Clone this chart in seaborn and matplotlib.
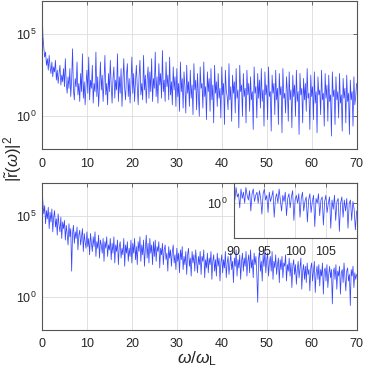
import matplotlib
matplotlib.use("Agg")
import matplotlib.pyplot as plt
import numpy as np
import seaborn as sns

# spectrum |r(w)|^2 as log10 values
top_step = 0.2
top_log = [
    7.0, 4.9, 4.2, 3.6, 3.9, 3.1, 3.5, 2.8, 3.7, 3.0, 2.6, 3.3, 2.4, 3.0, 2.7, 3.4, 2.2, 2.8, 2.0, 2.6, 3.1, 1.9, 2.5, 2.1, 2.9,
    1.8, 3.5, 2.0, 1.4, 2.4, 1.7, 2.9, 1.2, 2.2, 4.1, 1.6, 1.0, 2.3, 1.8, 3.3, 1.3, 2.0, 0.9, 2.6, 1.5, 3.8, 1.1, 2.1, 0.7, 1.9,
    2.8, 1.4, 3.6, 1.0, 2.2, 1.7, 3.1, 0.8, 2.0, 1.5, 3.9, 1.2, 2.4, 0.6, 1.8, 3.3, 1.6, 2.5, 0.9, 2.1, 3.7, 1.3, 2.0, 0.7, 2.6,
    1.5, 3.4, 1.9, 0.8, 2.3, 3.0, 1.1, 2.2, 1.6, 3.8, 0.9, 2.4, 1.4, 2.9, 0.6, 2.1, 3.5, 1.7, 1.0, 2.5, 3.2, 1.2, 2.3, 0.8, 2.0,
    3.6, 1.4, 2.6, 0.9, 2.1, 3.1, 1.8, 0.7, 2.4, 3.4, 1.3, 2.0, 1.0, 3.7, 1.6, 2.5, 0.8, 2.2, 3.0, 1.1, 2.7, 1.5, 3.5, 0.9, 2.3,
    1.7, 3.9, 1.2, 2.4, 0.8, 3.2, 1.9, 2.6, 1.1, 4.0, 1.5, 2.2, 0.9, 3.3, 1.8, 2.5, 1.0, 3.6, 1.3, 2.1, 0.7, 3.0, 1.6, 2.4, 0.6,
    2.9, 1.2, 2.0, 0.3, 3.3, 1.5, 2.3, 0.5, 2.7, 1.8, 0.2, 3.1, 1.4, 2.1, 0.6, 2.8, 1.1, 1.9, 0.1, 3.2, 1.6, 2.2, 0.4, 2.6, 1.3,
    0.0, 3.0, 1.7, 2.0, 0.5, 3.3, 1.2, 1.8, -0.2, 2.7, 1.5, 2.3, 0.3, 2.9, 1.0, 1.9, -0.4, 3.1, 1.4, 2.1, 0.6, 2.6, 1.1, 1.7, -0.1,
    3.0, 1.3, 2.0, -0.5, 2.8, 1.6, 1.2, 0.4, 3.2, 1.0, 1.8, -0.3, 2.5, 1.4, 2.1, 0.2, 2.9, 1.1, 1.6, -0.7, 3.1, 1.5, 1.9, 0.0, 2.6,
    1.2, 1.7, -0.4, 2.8, 1.3, 2.0, 0.3, 2.4, 1.0, 1.5, -0.8, 3.0, 1.4, 1.8, -0.1, 2.6, 1.1, 2.2, 0.5, 2.9, 0.9, 1.6, -0.6, 2.7, 1.3,
    1.9, -0.2, 3.0, 1.2, 1.5, -0.9, 2.5, 1.4, 2.0, 0.1, 2.8, 1.0, 1.7, -0.5, 2.6, 1.3, 1.8, -1.0, 2.9, 1.1, 1.4, 0.2, 2.4, 1.5, -0.3,
    2.7, 1.0, 1.6, -0.7, 2.5, 1.2, 1.9, 0.0, 2.8, 0.9, 1.5, -1.1, 2.6, 1.3, 1.7, -0.4, 2.3, 1.0, 2.0, 0.3, 2.9, 1.1, 1.4, -0.8, 2.5,
    1.2, 1.8, -0.2, 2.7, 0.8, 1.5, -1.0, 2.4, 1.3, 1.6, 0.1, 2.8, 1.0, 1.4, -0.6, 2.6, 1.1, 1.9, -0.3, 2.5, 0.9, 1.3, -1.2, 2.7, 1.2,
    1.6, -0.5, 2.4, 1.0, 1.5, -0.1, 2.6, 0.8, 1.3, -0.9, 2.3, 1.1, 1.7, -0.4, 2.5, 0.9, 1.4, -1.1, 2.2, 1.0, 1.5, -0.6, 2.4, 0.7, 1.2,
    2.0,
]

bottom_step = 0.2
bottom_log = [
    7.0, 5.8, 5.1, 5.6, 4.5, 5.3, 4.8, 5.5, 4.2, 5.2, 4.6, 5.4, 4.0, 4.9, 5.3, 4.3, 4.8, 3.8, 5.1, 4.4, 4.0, 4.9, 3.6, 4.6, 4.2,
    4.7, 3.5, 4.4, 3.9, 3.2, 4.5, 3.7, 4.2, 1.6, 3.9, 4.4, 3.3, 4.0, 3.6, 4.3, 2.9, 3.8, 4.1, 3.2, 3.7, 4.2, 2.8, 3.9, 3.4, 3.0,
    4.0, 3.1, 3.6, 2.6, 3.9, 3.3, 2.8, 3.7, 3.1, 4.0, 2.5, 3.4, 3.0, 3.8, 2.4, 3.5, 3.2, 2.7, 3.6, 2.2, 3.4, 3.0, 3.7, 2.5, 3.2,
    2.9, 3.6, 2.3, 3.3, 2.7, 3.7, 2.1, 3.2, 2.8, 3.5, 2.0, 3.1, 3.4, 2.4, 3.0, 2.6, 3.6, 1.9, 3.2, 2.7, 3.4, 2.2, 3.0, 2.5, 3.5,
    2.1, 3.3, 2.7, 3.6, 2.3, 3.1, 2.0, 3.4, 2.8, 3.7, 2.2, 3.2, 2.6, 3.5, 1.9, 3.0, 3.8, 2.4, 3.3, 2.1, 3.6, 2.7, 3.2, 2.0, 3.4,
    2.5, 3.5, 2.2, 3.1, 2.8, 3.4, 1.8, 3.0, 2.6, 3.3, 2.0, 2.9, 3.2, 2.3, 2.7, 1.6, 3.1, 2.4, 2.9, 1.9, 2.8, 3.2, 2.1, 2.6, 1.7,
    3.0, 2.2, 2.7, 1.5, 2.9, 2.3, 3.1, 1.7, 2.5, 2.0, 2.8, 1.4, 2.6, 3.0, 1.9, 2.4, 1.3, 2.8, 2.1, 2.6, 1.6, 2.9, 2.2, 1.5, 2.5,
    2.0, 2.8, 1.4, 2.5, 2.2, 2.9, 1.2, 2.3, 1.8, 2.7, 1.5, 2.4, 2.0, 2.8, 1.1, 2.2, 2.6, 1.6, 2.3, 1.3, 2.7, 1.9, 2.4, 1.0, 2.1,
    2.6, 1.5, 2.3, 1.8, 2.8, 1.2, 2.1, 2.5, 1.4, 2.0, 2.7, 1.7, 2.2, 0.9, 2.4, 1.9, 2.9, 1.3, 2.3, 1.8, 2.6, 1.1, 2.2, 2.7, 1.6,
    2.4, 1.9, 2.8, 1.3, 2.2, 2.6, 1.5, 2.9, 1.8, 2.3, 1.2, 2.7, 2.0, 2.5, 1.4, -0.3, 2.4, 2.8, 1.6, 2.2, 1.0, 2.6, 1.9, 2.9, 1.5,
    2.3, 2.7, 1.3, 2.1, 2.5, 1.6, 2.8, 1.1, 2.2, 1.8, 2.6, 1.4, 2.0, 2.4, 0.9, 2.3, 1.7, 2.5, 1.2, 2.1, 1.9, 2.6, 1.0, 2.0, 1.6,
    2.4, 1.3, 2.1, 0.6, 1.9, 2.3, 1.4, 2.0, 0.8, 1.7, 2.2, 1.2, 1.8, 2.4, 0.5, 1.6, 2.0, 1.1, 1.9, 0.9, 2.1, 1.4, 1.7, 0.4, 1.8,
    2.1, 1.0, 1.6, 2.2, 0.3, 1.5, 1.9, 1.1, 2.0, 0.7, 1.7, 1.3, 2.1, 0.2, 1.6, 1.8, 1.0, 2.0, 0.6, 1.4, 1.9, 1.2, 1.7, -0.4, 1.5,
    1.8, 1.1, 2.0, 0.5, 1.6, 1.3, 1.9, 0.2, 1.5, 1.7, 0.9, 2.1, 1.2, 0.4, 1.6, 1.8, 1.0, 1.4, -0.5, 1.7, 1.3, 1.9, 0.6, 1.5, 1.1,
    1.4,
]

inset_start = 90
inset_step = 0.2
inset_log = [
    0.8, 0.2, 1.0, 0.4, 0.6, -0.3, 0.9, 0.3, 0.7, 0.0, 1.0, 0.5, 0.2, 0.8, -0.5, 0.6, 0.9, 0.1, 0.5, 0.7,
    0.0, 0.8, 0.3, -0.7, 0.6, 0.9, 0.2, 0.5, -0.6, 0.7, 0.1, 0.4, 0.8, -0.9, 0.3, 0.6, 0.0, 0.9, 0.2, -0.5,
    0.5, 0.1, 0.7, -0.8, 0.3, 0.6, -0.3, 0.4, 0.8, -1.1, 0.2, 0.5, 0.0, 0.6, -0.9, 0.3, 0.7, -0.5, 0.1, 0.4,
    -1.2, 0.2, 0.6, -0.6, 0.1, 0.5, -1.5, 0.3, 0.0, 0.6, -0.8, 0.2, 0.4, -1.4, 0.1, 0.5, -0.6, 0.0, 0.4, -1.6,
    0.2, -0.4, 0.5, -1.1, 0.1, 0.3, -1.8, 0.0, 0.4, -0.9, 0.2, -0.5, 0.3, -1.6, 0.0, 0.2, -1.1, 0.1, -0.4, -1.7,
    -0.5,
]

line_color = "#2233ff"
spine_color = "#555555"
grid_color = "#dcdcdc"

sns.set_theme(style="white")
plt.rcParams["font.family"] = ["Liberation Sans", "DejaVu Sans"]
plt.rcParams["mathtext.fontset"] = "custom"
plt.rcParams["mathtext.rm"] = "Liberation Sans"
plt.rcParams["mathtext.it"] = "Liberation Sans:italic"


def spectrum(log_vals, start, step):
    x = start + step * np.arange(len(log_vals))
    y = 10.0 ** np.array(log_vals)
    return x, y


def style_axes(ax, fs=9):
    for s in ax.spines.values():
        s.set_color(spine_color)
        s.set_linewidth(0.8)
    ax.tick_params(direction="in", length=3, width=0.6, color=spine_color,
                   top=True, right=True, labelsize=fs, pad=4)
    ax.tick_params(axis="x", pad=6)
    ax.grid(True, color=grid_color, linewidth=0.6)
    ax.set_xlabel("")
    ax.set_ylabel("")


fig = plt.figure(figsize=(3.65, 3.73), dpi=100)
ax_top = fig.add_axes([0.115, 0.600, 0.862, 0.397])
ax_bot = fig.add_axes([0.115, 0.115, 0.862, 0.395])
ax_in = fig.add_axes([0.640, 0.363, 0.337, 0.147])

for ax, vals, step in [(ax_top, top_log, top_step), (ax_bot, bottom_log, bottom_step)]:
    x, y = spectrum(vals, 0, step)
    sns.lineplot(x=x, y=y, ax=ax, color=line_color, linewidth=0.55, alpha=0.9, estimator=None)
    ax.set_yscale("log")
    ax.set_xlim(0, 70)
    ax.set_ylim(1e-2, 1e7)
    ax.set_xticks(range(0, 71, 10))
    ax.set_yticks([1e0, 1e5])
    ax.yaxis.set_minor_locator(matplotlib.ticker.NullLocator())
    style_axes(ax)

x, y = spectrum(inset_log, inset_start, inset_step)
sns.lineplot(x=x, y=y, ax=ax_in, color=line_color, linewidth=0.55, alpha=0.9, estimator=None)
ax_in.set_yscale("log")
ax_in.set_xlim(90, 110)
ax_in.set_ylim(10 ** -2.2, 10 ** 1.3)
ax_in.set_xticks([90, 95, 100, 105])
ax_in.set_yticks([1e0])
ax_in.yaxis.set_minor_locator(matplotlib.ticker.NullLocator())
style_axes(ax_in)
ax_in.set_facecolor("white")

fig.text(0.035, 0.575, r"$|\tilde{\mathrm{r}}(\omega)|^2$", rotation=90,
         ha="center", va="center", fontsize=12)
fig.text(0.541, 0.026, r"$\omega/\omega_\mathrm{L}$", ha="center", va="baseline", fontsize=12.5)

fig.savefig("out.png", dpi=100)
